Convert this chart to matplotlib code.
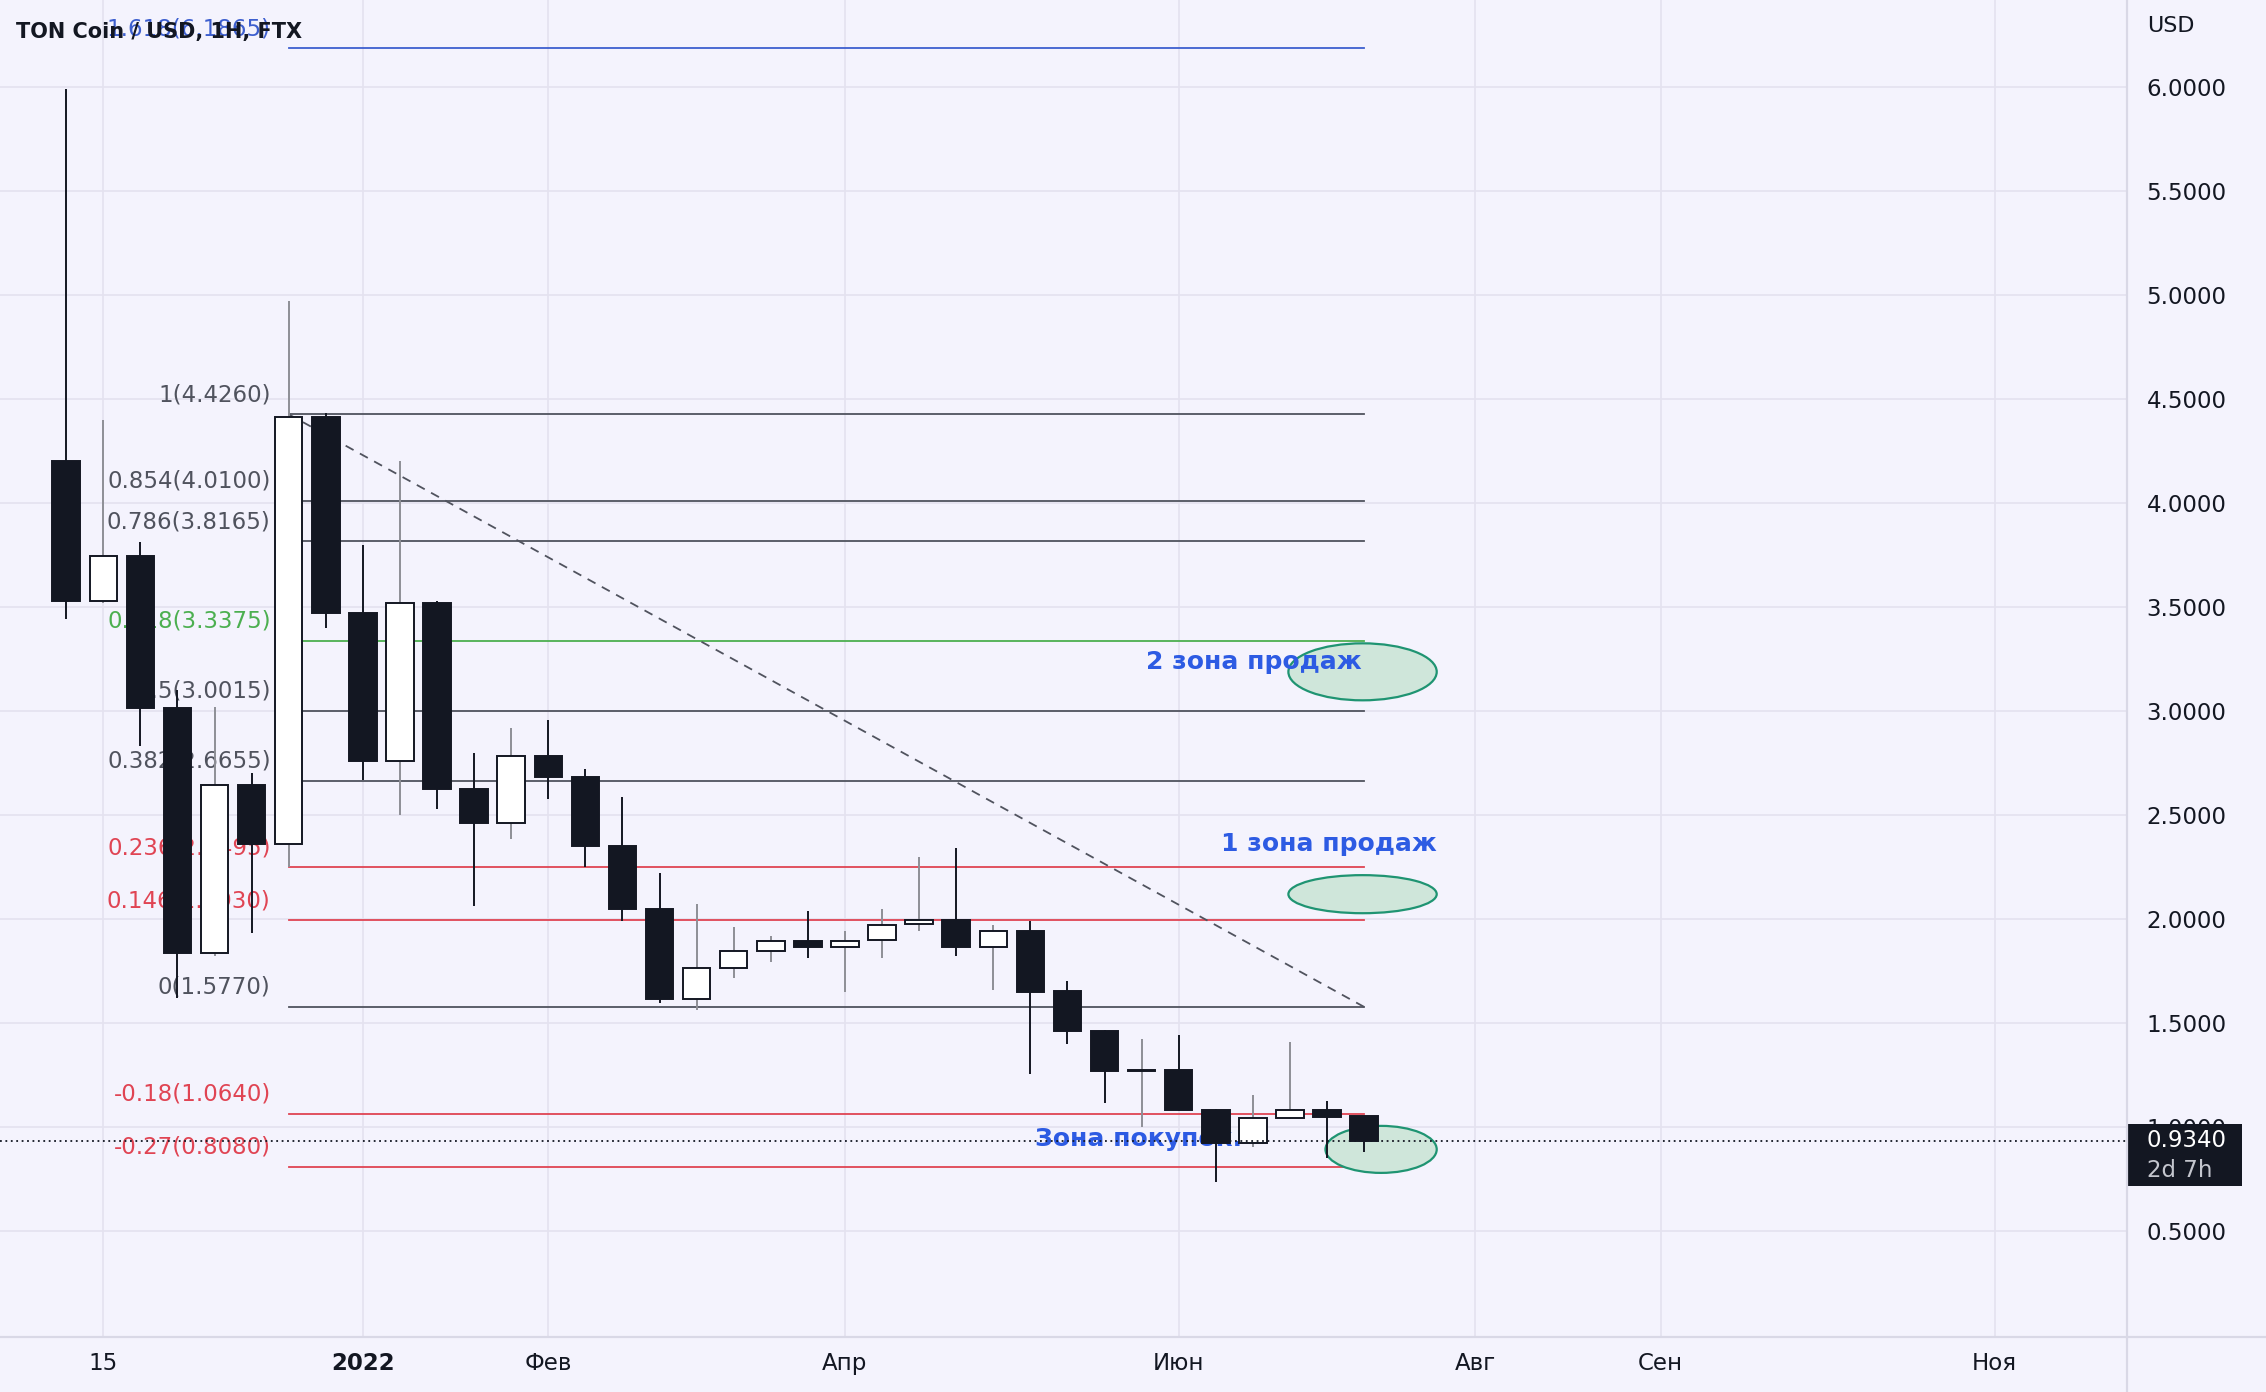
import matplotlib
matplotlib.use('Agg')
import matplotlib.pyplot as plt
import matplotlib.dates as mdates
import matplotlib.transforms as mtransforms
from matplotlib.patches import Ellipse, Rectangle
from matplotlib.lines import Line2D
import pandas as pd

# weekly candles, TON/USD
weeks = pd.date_range('2021-11-08', periods=36, freq='7D')
opens = [4.20, 3.53, 3.745, 3.016, 1.834, 2.642, 2.36, 4.414, 3.47, 2.757, 3.517, 2.624,
         2.46, 2.784, 2.681, 2.349, 2.05, 1.615, 1.763, 1.844, 1.896, 1.865, 1.897, 1.975,
         1.994, 1.865, 1.94, 1.654, 1.462, 1.270, 1.274, 1.082, 0.922, 1.042, 1.08, 1.053]
highs = [5.99, 4.40, 3.81, 3.10, 3.02, 2.70, 4.97, 4.43, 3.80, 4.20, 3.53, 2.80,
         2.92, 2.956, 2.72, 2.585, 2.22, 2.07, 1.962, 1.92, 2.04, 1.94, 2.048, 2.30,
         2.34, 1.97, 1.99, 1.70, 1.465, 1.423, 1.442, 1.085, 1.154, 1.407, 1.125, 1.053]
lows = [3.44, 3.52, 2.83, 1.62, 1.82, 1.93, 2.25, 3.40, 2.67, 2.50, 2.53, 2.06,
        2.385, 2.575, 2.25, 1.99, 1.597, 1.56, 1.716, 1.795, 1.81, 1.647, 1.81, 1.94,
        1.82, 1.66, 1.253, 1.40, 1.117, 1.00, 1.075, 0.733, 0.902, 1.04, 0.849, 0.88]
closes = [3.53, 3.745, 3.016, 1.834, 2.642, 2.36, 4.414, 3.47, 2.757, 3.517, 2.624, 2.46,
          2.784, 2.681, 2.349, 2.05, 1.613, 1.763, 1.844, 1.896, 1.865, 1.896, 1.973, 1.993,
          1.864, 1.94, 1.651, 1.459, 1.27, 1.276, 1.082, 0.925, 1.042, 1.08, 1.05, 0.934]

# fibonacci retracement
fib_levels = ['1.618', '1', '0.854', '0.786', '0.618', '0.5', '0.382', '0.236', '0.146', '0', '-0.18', '-0.27']
fib_prices = [6.1865, 4.4260, 4.0100, 3.8165, 3.3375, 3.0015, 2.6655, 2.2495, 1.9930, 1.5770, 1.0640, 0.8080]
fib_colors = ['#3d5fcf', '#50535e', '#50535e', '#50535e', '#4caf50', '#50535e', '#50535e',
              '#e04453', '#e04453', '#50535e', '#e04453', '#e04453']

tick_dates = ['2021-11-15', '2022-01-03', '2022-02-07', '2022-04-04', '2022-06-06',
              '2022-08-01', '2022-09-05', '2022-11-07']
tick_labels = ['15', '2022', 'Фев', 'Апр', 'Июн', 'Авг', 'Сен', 'Ноя']
price_ticks = [0.5, 1.0, 1.5, 2.0, 2.5, 3.0, 3.5, 4.0, 4.5, 5.0, 5.5, 6.0]
last_price = 0.934

bg = '#f4f3fd'
dark = '#131722'
grid_c = '#e4e2ef'
sep_c = '#d9d8e6'

fig = plt.figure(figsize=(22.66, 13.92), dpi=100, facecolor=bg)
ax = fig.add_axes([0, 55 / 1392, 2127 / 2266, 1337 / 1392])
ax.set_facecolor(bg)

x = mdates.date2num(weeks)
x0 = x[0]
ax.set_xlim(x0 - 12.5, x0 + 389)
ax.set_ylim(-0.01, 6.418)

# grid
for p in price_ticks:
    ax.axhline(p, color=grid_c, lw=1.2, zorder=0)
xt = mdates.date2num(pd.to_datetime(tick_dates))
for t in xt:
    ax.axvline(t, color=grid_c, lw=1.2, zorder=0)

# fib lines + labels (labels sit under the candles)
xs, xe = x[6], x[35]
for lvl, pr, c in zip(fib_levels, fib_prices, fib_colors):
    ax.plot([xs, xe], [pr, pr], color=c, lw=1.3, zorder=1)
    ax.annotate('%s(%.4f)' % (lvl, pr), xy=(xs, pr), xytext=(-13, 14),
                textcoords='offset points', ha='right', va='center',
                fontsize=16.5, color=c, zorder=1)
ax.plot([xs, xe], [fib_prices[1], fib_prices[9]], color='#50535e', lw=1.3,
        linestyle=(0, (5, 4)), zorder=1)

# zone texts (under candles)
zone_c = '#2d5be3'
ax.text(x[29] + 0.9, 3.234, '2 зона продаж', fontsize=18, fontweight='bold',
        color=zone_c, ha='left', va='center', zorder=1.5)
ax.text(x[31] + 1.0, 2.359, '1 зона продаж', fontsize=18, fontweight='bold',
        color=zone_c, ha='left', va='center', zorder=1.5)
ax.text(x[26] + 0.8, 0.941, 'Зона покупок.', fontsize=18, fontweight='bold',
        color=zone_c, ha='left', va='center', zorder=1.5)

# ellipses
for cx, cy, w, h in [(x[35] - 0.3, 3.188, 28, 0.274),
                     (x[35] - 0.3, 2.119, 28, 0.183),
                     (x[35] + 3.2, 0.892, 21, 0.226)]:
    ax.add_patch(Ellipse((cx, cy), w, h, facecolor='#cfe6da', edgecolor='#1f9472',
                         lw=1.6, zorder=1.2))

# candles
bw = 5.2
for xi, o, h, l, c in zip(x, opens, highs, lows, closes):
    up = c >= o
    wick_c = '#8e8f96' if up else dark
    ax.plot([xi, xi], [l, h], color=wick_c, lw=1.4, zorder=3, solid_capstyle='butt')
    lo, hi = min(o, c), max(o, c)
    ax.add_patch(Rectangle((xi - bw / 2, lo), bw, max(hi - lo, 0.004),
                           facecolor='white' if up else dark, edgecolor=dark,
                           lw=1.4, zorder=4))

# last price line
ax.axhline(last_price, color=dark, lw=1.3, linestyle=(0, (1, 2)), zorder=5)

# axes styling
for s in ax.spines.values():
    s.set_visible(False)
ax.yaxis.tick_right()
ax.set_yticks(price_ticks)
ax.set_yticklabels(['%.4f' % p for p in price_ticks])
ax.tick_params(axis='y', length=0, pad=14, labelsize=16.5, labelcolor=dark)
ax.set_xticks(xt)
ax.set_xticklabels(tick_labels)
ax.tick_params(axis='x', length=0, pad=11, labelsize=16.5, labelcolor=dark)
ax.get_xticklabels()[1].set_fontweight('bold')

# price tag on the right axis
tr = mtransforms.blended_transform_factory(ax.transAxes, ax.transData)
ax.add_patch(Rectangle((1.0, 0.718), 0.054, 0.296, transform=tr, facecolor=dark,
                       edgecolor='none', clip_on=False, zorder=10))
ax.text(1.0093, last_price, '%.4f' % last_price, transform=tr, color='white',
        fontsize=16.5, ha='left', va='center', zorder=11, clip_on=False)
ax.text(1.0093, 0.79, '2d 7h', transform=tr, color='#c4c6ce',
        fontsize=16.5, ha='left', va='center', zorder=11, clip_on=False)

# separators
fig.add_artist(Line2D([2127 / 2266] * 2, [0, 1], color=sep_c, lw=1.6))
fig.add_artist(Line2D([0, 1], [55 / 1392] * 2, color=sep_c, lw=1.6))

fig.text(16 / 2266, 1 - 32 / 1392, 'TON Coin / USD, 1H, FTX', fontsize=15,
         fontweight='bold', color=dark, ha='left', va='center')
fig.text(2147 / 2266, 1 - 26 / 1392, 'USD', fontsize=16, color=dark,
         ha='left', va='center')

fig.savefig('out.png', dpi=100, facecolor=bg)
